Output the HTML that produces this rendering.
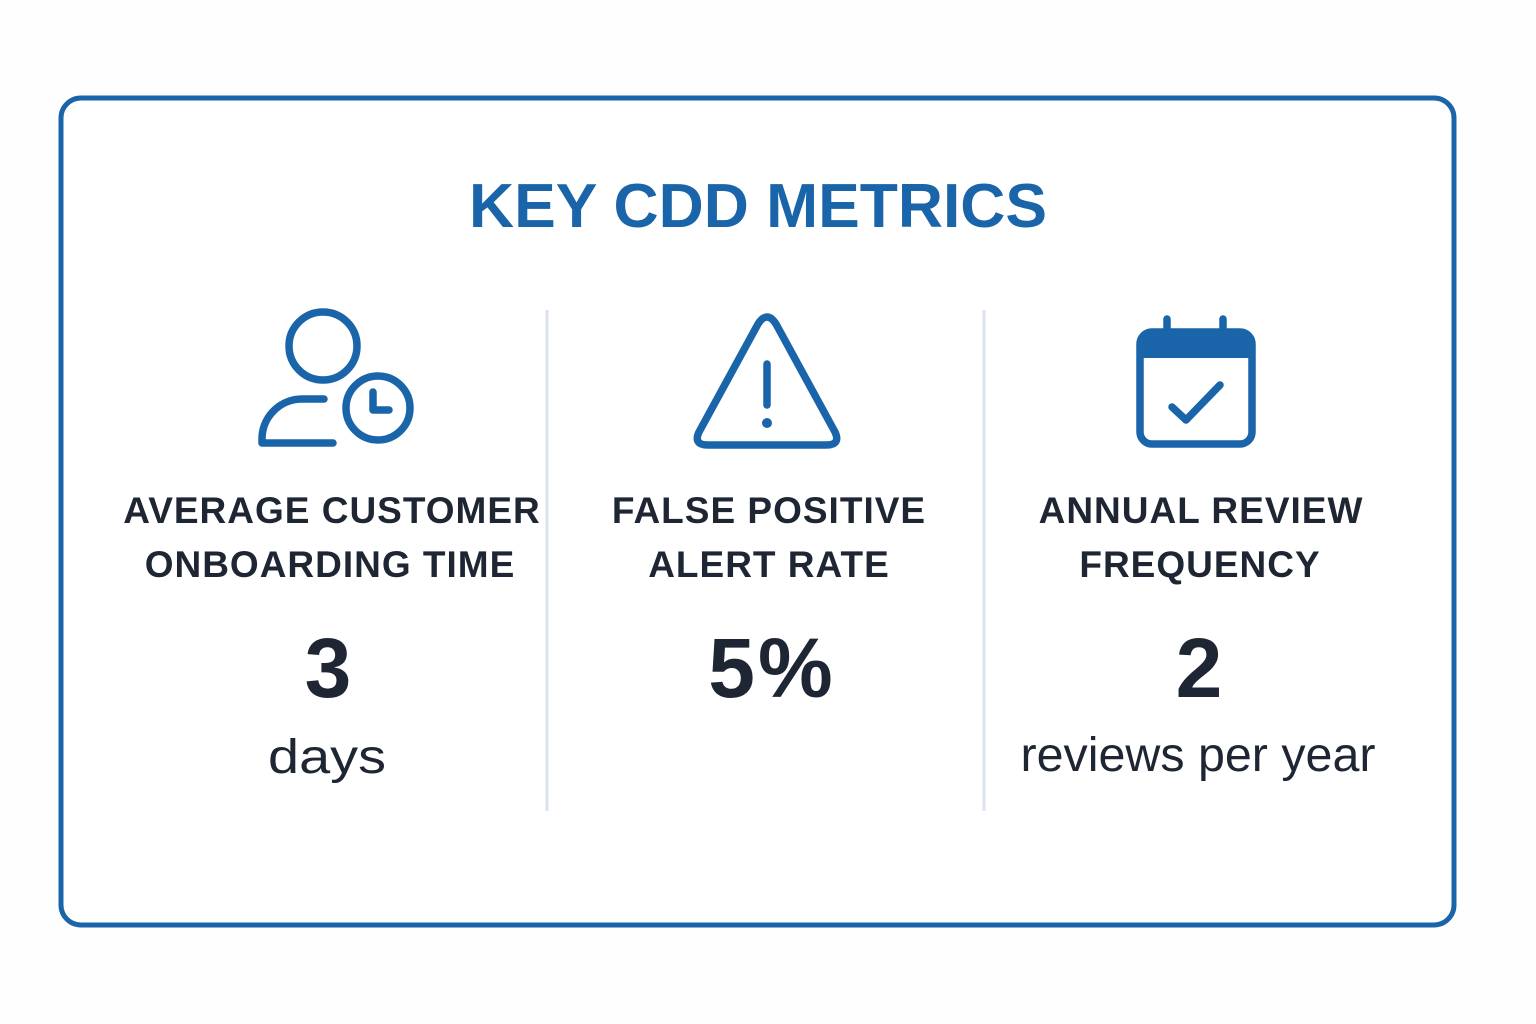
<!DOCTYPE html>
<html><head><meta charset="utf-8"><style>
html,body{margin:0;padding:0;background:#fff;}
svg{display:block}
text{font-family:"Liberation Sans","DejaVu Sans",sans-serif}
</style></head><body>
<svg width="1536" height="1024" viewBox="0 0 1536 1024" xmlns="http://www.w3.org/2000/svg">
<rect x="0" y="0" width="1536" height="1024" fill="#fefefe"/>
<rect x="61" y="98" width="1393" height="827" rx="20" fill="#fff" stroke="#1a65aa" stroke-width="5"/>
<text x="758" y="227" text-anchor="middle" font-size="62" font-weight="bold" fill="#1a65aa" textLength="578" lengthAdjust="spacingAndGlyphs">KEY CDD METRICS</text>
<line x1="547" y1="310" x2="547" y2="811" stroke="#dbe3ec" stroke-width="3"/>
<line x1="984" y1="310" x2="984" y2="811" stroke="#dbe3ec" stroke-width="3"/>
<g fill="none" stroke="#1a65aa" stroke-width="7.5" stroke-linecap="round" stroke-linejoin="round">
<circle cx="323" cy="346" r="34"/>
<path d="M324 399 H302 A40 40 0 0 0 262 439 V443 H333"/>
<circle cx="378" cy="408" r="32"/>
<path d="M373 392 V410 H389"/>
<path d="M758 324 Q767 310 776 324 L835 432 Q841 445 826 445 H708 Q693 445 699 432 Z"/>
<line x1="767" y1="364" x2="767" y2="405"/>
<path d="M1172 407 L1186 420 L1220 385"/>
<rect x="1140" y="332" width="112" height="112" rx="12"/>
<line x1="1167" y1="319" x2="1167" y2="334"/>
<line x1="1223" y1="319" x2="1223" y2="334"/>
</g>
<circle cx="767" cy="423" r="5" fill="#1a65aa"/>
<path d="M1140 358 V344 A12 12 0 0 1 1152 332 H1240 A12 12 0 0 1 1252 344 V358 Z" fill="#1a65aa"/>
<g font-size="37" font-weight="bold" fill="#1f2633" text-anchor="middle" letter-spacing="1">
<text x="332" y="523">AVERAGE CUSTOMER</text>
<text x="330" y="577">ONBOARDING TIME</text>
<text x="769" y="523">FALSE POSITIVE</text>
<text x="769" y="577">ALERT RATE</text>
<text x="1201" y="523">ANNUAL REVIEW</text>
<text x="1200" y="577">FREQUENCY</text>
</g>
<g font-size="84" font-weight="bold" fill="#1f2633" text-anchor="middle">
<text x="328" y="697">3</text>
<text x="772" y="697" letter-spacing="3">5%</text>
<text x="1199" y="697">2</text>
</g>
<g font-size="48" fill="#1f2633" text-anchor="middle">
<text x="327" y="773" textLength="118" lengthAdjust="spacingAndGlyphs">days</text>
<text x="1198" y="771" textLength="355" lengthAdjust="spacingAndGlyphs">reviews per year</text>
</g>
</svg>
</body></html>
